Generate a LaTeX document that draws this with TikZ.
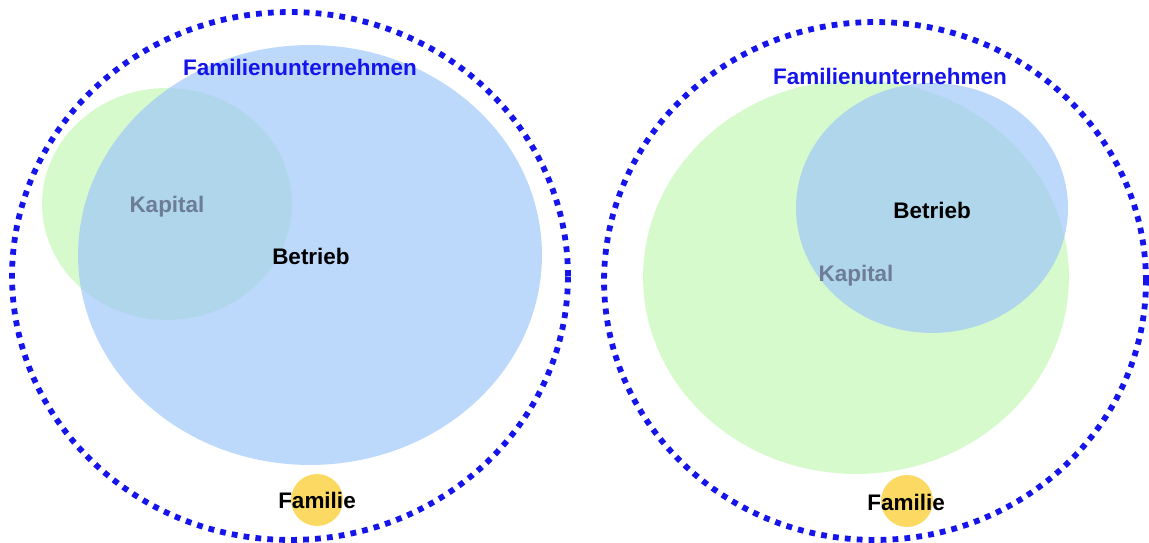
\documentclass[tikz,border=0pt]{standalone}
\usepackage{fontspec}
\setmainfont{Liberation Sans}
\definecolor{betriebblue}{RGB}{160,200,250}
\definecolor{kapitalgreen}{RGB}{215,250,205}
\definecolor{familiegold}{RGB}{250,210,70}
\definecolor{randblue}{RGB}{20,20,235}
\definecolor{kapitalgrey}{RGB}{110,125,150}
\tikzset{
  rand/.style={randblue, line width=3.3pt, dash pattern=on 3.3pt off 3.5pt},
  label/.style={font=\bfseries\fontsize{12.8}{15}\selectfont},
}

\begin{document}
\begin{tikzpicture}[x=0.02cm, y=-0.02cm]
  \useasboundingbox (0,0) rectangle (1149,543);
  % links
  \fill[kapitalgreen] (167,204) ellipse [x radius=2.5cm, y radius=2.32cm];
  \fill[betriebblue, opacity=0.7] (310,255) ellipse [x radius=4.64cm, y radius=4.2cm];
  \fill[familiegold, opacity=0.85] (317,500) circle [radius=0.52cm];
  \draw[rand] (290,276) ellipse [x radius=5.56cm, y radius=5.28cm];
  \node[label, randblue] (fu1) at (300,67) {Familienunternehmen};
  \node[label, kapitalgrey] (kap1) at (167,207) {Kapital};
  \node[label] (bet1) at (311,256) {Betrieb};
  \node[label] (fam1) at (317,500) {Familie};
  % rechts
  \fill[kapitalgreen] (856,277) ellipse [x radius=4.26cm, y radius=3.94cm];
  \fill[betriebblue, opacity=0.7] (932,208) ellipse [x radius=2.72cm, y radius=2.5cm];
  \fill[familiegold, opacity=0.85] (907,501) circle [radius=0.52cm];
  \draw[rand] (875,281) ellipse [x radius=5.42cm, y radius=5.18cm];
  \node[label, randblue] (fu2) at (890,76) {Familienunternehmen};
  \node[label] (bet2) at (932,210) {Betrieb};
  \node[label, kapitalgrey] (kap2) at (856,276) {Kapital};
  \node[label] (fam2) at (906,502) {Familie};
\end{tikzpicture}
\end{document}
